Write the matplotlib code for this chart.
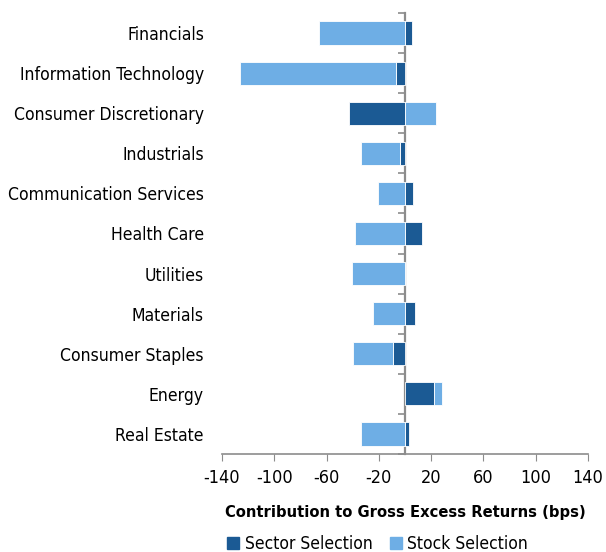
import numpy as np
import matplotlib.pyplot as plt
from matplotlib.patches import Patch

plt.rcParams['font.family'] = ['DejaVu Sans']
plt.rcParams['font.stretch'] = 'condensed'
plt.rcParams['axes.unicode_minus'] = False

sectors = ["Financials", "Information Technology", "Consumer Discretionary",
           "Industrials", "Communication Services", "Health Care", "Utilities",
           "Materials", "Consumer Staples", "Energy", "Real Estate"]
sector_sel = [5.5, -7.0, -42.5, -3.5, 6.0, 13.0, 0.0, 7.5, -9.5, 22.0, 3.0]
stock_sel = [-66.0, -119.0, 24.0, -30.5, -21.0, -38.0, -40.5, -24.5, -30.5, 6.5, -34.0]

dark = "#1b5a94"
light = "#6eaee5"

fig = plt.figure(figsize=(6.06, 5.52), dpi=100)
ax = fig.add_axes([222 / 606, 1 - 454 / 552, 366 / 606, 441 / 552])

y = np.arange(len(sectors))
pos = np.zeros(len(sectors))
neg = np.zeros(len(sectors))
for vals, color, name in [(sector_sel, dark, "Sector Selection"),
                          (stock_sel, light, "Stock Selection")]:
    vals = np.array(vals)
    left = np.where(vals >= 0, pos, neg)
    ax.barh(y, vals, left=left, height=0.58, color=color,
            edgecolor="white", linewidth=0.6, label=name, zorder=2)
    pos += np.where(vals >= 0, vals, 0)
    neg += np.where(vals < 0, vals, 0)

ax.set_xlim(-140, 140)
ax.set_ylim(len(sectors) - 0.5, -0.5)
ax.set_xticks(np.arange(-140, 141, 40))
ax.set_yticks(y)
ax.set_yticklabels(sectors, fontsize=12.6)
ax.tick_params(axis="y", length=0, pad=13)
ax.tick_params(axis="x", labelsize=13, length=5, color="#8c8c8c", pad=6)

for s in ["top", "right", "left"]:
    ax.spines[s].set_visible(False)
ax.spines["bottom"].set_color("#8c8c8c")
ax.spines["bottom"].set_linewidth(1.2)

# zero line (x = 0 sits at axes fraction 0.5) with category separator ticks
sec = ax.secondary_yaxis(0.4999)
sec.set_yticks(np.arange(-0.5, len(sectors), 1.0))
sec.set_yticklabels([])
sec.tick_params(length=5, color="#8c8c8c", width=1.2)
for s in ["left", "right"]:
    sec.spines[s].set_color("#8c8c8c")
    sec.spines[s].set_linewidth(1.6)

ax.set_xlabel("Contribution to Gross Excess Returns (bps)", fontsize=11.8,
              fontweight="heavy", labelpad=13)

handles = [Patch(color=dark, label="Sector Selection"),
           Patch(color=light, label="Stock Selection")]
fig.legend(handles=handles, loc="lower center", ncol=2, frameon=False,
           fontsize=12.5, bbox_to_anchor=(0.623, -0.03), handlelength=0.7,
           handleheight=0.7, handletextpad=0.3, columnspacing=1.0)

fig.savefig("out.png", dpi=100)
